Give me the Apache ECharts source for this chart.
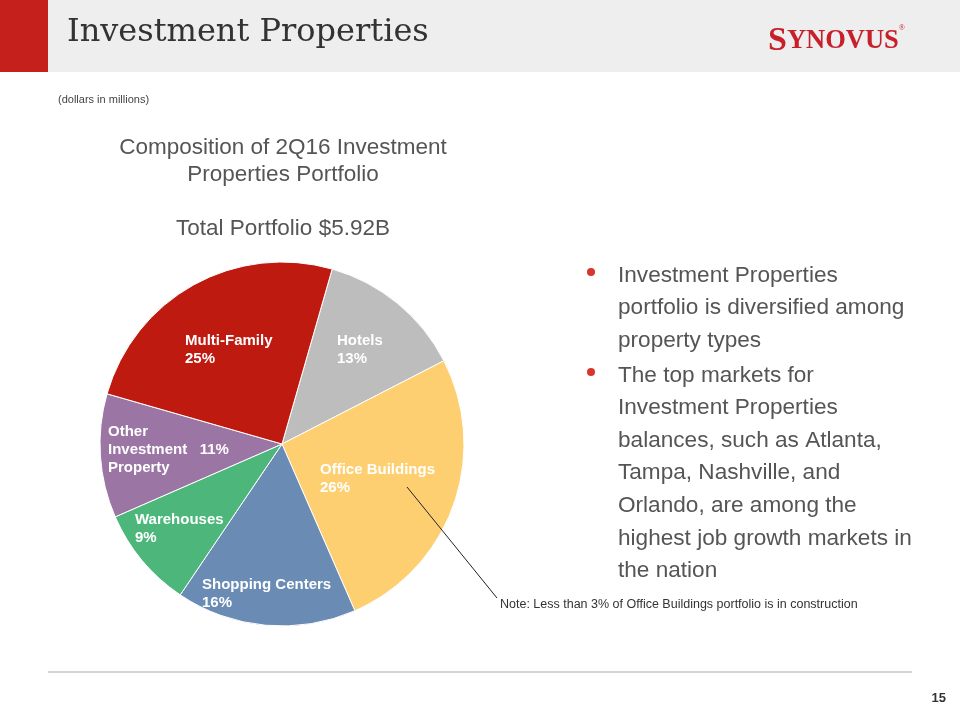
<!DOCTYPE html>
<html>
<head>
<meta charset="utf-8">
<script src="https://cdn.jsdelivr.net/npm/echarts@6/dist/echarts.min.js"></script>
<style>
  html, body { margin: 0; padding: 0; background: #fff; }
  #chart { width: 960px; height: 720px; }
</style>
</head>
<body>
<div id="chart"></div>
<script>
// ---- data ----
const categories = ['Hotels', 'Office Buildings', 'Shopping Centers', 'Warehouses', 'Other Investment Property', 'Multi-Family'];
const shares = [13, 26, 16, 9, 11, 25];          // percent of portfolio
const sliceColors = ['#bdbdbd', '#fdcf70', '#6a8cb4', '#4db77b', '#9b76a4', '#bf1a10'];
const bullets = [
  ['Investment Properties', 'portfolio is diversified among', 'property types'],
  ['The top markets for', 'Investment Properties', 'balances, such as Atlanta,', 'Tampa, Nashville, and', 'Orlando, are among the', 'highest job growth markets in', 'the nation']
];

// label placement (styles, not data)
const labelPos = [[337, 332], [320, 461], [202, 576], [135, 511], [108, 423], [185, 332]];

const chart = echarts.init(document.getElementById('chart'), null, { renderer: 'canvas' });

const sans = '"Liberation Sans", Arial, Helvetica, sans-serif';

const option = {
  backgroundColor: '#ffffff',
  animation: false,
  graphic: [
    { type: 'rect', shape: { x: 0, y: 0, width: 960, height: 72 }, style: { fill: '#eeeeee' }, z: 0 },
    { type: 'rect', shape: { x: 0, y: 0, width: 48, height: 72 }, style: { fill: '#c5201c' }, z: 1 },
    { type: 'text', x: 67, y: 33, style: { text: 'Investment Properties', font: '32px "DejaVu Serif", "Liberation Serif", serif', fill: '#333333', verticalAlign: 'middle' }, z: 2 },
    { type: 'text', x: 768, y: 41, style: {
        text: '{a|S}{b|YNOVUS}{c|®}',
        rich: {
          a: { font: 'bold 34px "Liberation Serif", serif', fill: '#c8202a' },
          b: { font: 'bold 26.5px "Liberation Serif", serif', fill: '#c8202a' },
          c: { font: '8px "Liberation Serif", serif', fill: '#c8202a', verticalAlign: 'top', padding: [0, 0, 14, 0] }
        },
        verticalAlign: 'middle' }, z: 2 },
    { type: 'text', x: 58, y: 100, style: { text: '(dollars in millions)', font: '11px ' + sans, fill: '#444444', verticalAlign: 'middle' } },
    { type: 'text', x: 283, y: 161, style: { text: 'Composition of 2Q16 Investment\nProperties Portfolio', font: '22.5px ' + sans, lineHeight: 27, fill: '#555555', align: 'center', verticalAlign: 'middle' } },
    { type: 'text', x: 283, y: 229, style: { text: 'Total Portfolio $5.92B', font: '22.5px ' + sans, fill: '#555555', align: 'center', verticalAlign: 'middle' } },
    { type: 'circle', shape: { cx: 591, cy: 272, r: 4 }, style: { fill: '#d8352c' } },
    { type: 'circle', shape: { cx: 591, cy: 372, r: 4 }, style: { fill: '#d8352c' } },
    { type: 'text', x: 618, y: 259, style: { text: bullets[0].join('\n'), font: '22.6px ' + sans, lineHeight: 32.6, fill: '#555555', verticalAlign: 'top' } },
    { type: 'text', x: 618, y: 359, style: { text: bullets[1].join('\n'), font: '22.6px ' + sans, lineHeight: 32.6, fill: '#555555', verticalAlign: 'top' } },
    { type: 'line', shape: { x1: 407, y1: 487, x2: 497, y2: 598 }, style: { stroke: '#222222', lineWidth: 1 }, z: 10 },
    { type: 'text', x: 500, y: 605, style: { text: 'Note: Less than 3% of Office Buildings portfolio is in construction', font: '12.5px ' + sans, fill: '#333333', verticalAlign: 'middle' } },
    { type: 'rect', shape: { x: 48, y: 671, width: 864, height: 2 }, style: { fill: '#d4d4d4' } },
    { type: 'text', x: 946, y: 698, style: { text: '15', font: 'bold 13px ' + sans, fill: '#333333', align: 'right', verticalAlign: 'middle' } }
  ],
  series: [{
    type: 'pie',
    center: [282, 444],
    radius: [0, 182],
    startAngle: 74,
    clockwise: true,
    silent: true,
    itemStyle: { borderColor: '#ffffff', borderWidth: 1 },
    label: {
      show: true,
      position: 'inside',
      color: '#ffffff',
      fontFamily: sans,
      fontWeight: 'bold',
      fontSize: 15,
      lineHeight: 18,
      formatter: function (p) {
        if (p.dataIndex === 4) return 'Other\nInvestment   ' + p.percent + '%\nProperty';
        return p.name + '\n' + p.percent + '%';
      }
    },
    labelLine: { show: false },
    labelLayout: function (params) {
      const pos = labelPos[params.dataIndex];
      return { x: pos[0], y: pos[1], align: 'left', verticalAlign: 'top' };
    },
    data: categories.map(function (c, i) {
      return { name: c, value: shares[i], itemStyle: { color: sliceColors[i] } };
    })
  }]
};

chart.setOption(option);
</script>
</body>
</html>
